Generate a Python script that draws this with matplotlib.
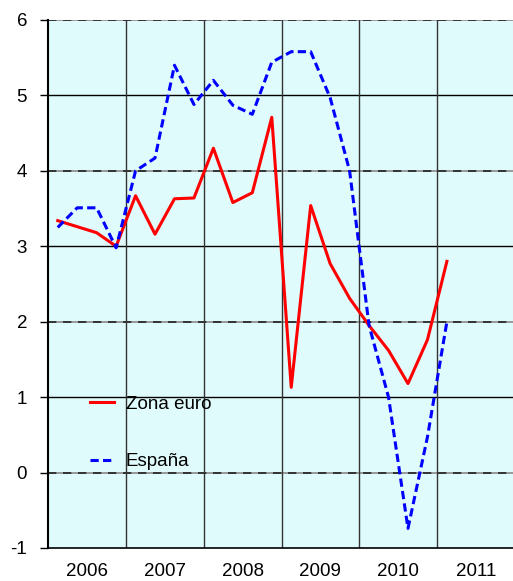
import numpy as np
import matplotlib
matplotlib.use("Agg")
import matplotlib.pyplot as plt

# Datos trimestrales 2006T1 - 2011T1
trimestres = ["2006T1", "2006T2", "2006T3", "2006T4",
              "2007T1", "2007T2", "2007T3", "2007T4",
              "2008T1", "2008T2", "2008T3", "2008T4",
              "2009T1", "2009T2", "2009T3", "2009T4",
              "2010T1", "2010T2", "2010T3", "2010T4",
              "2011T1"]
zona_euro = [3.34, 3.26, 3.18, 3.00,
             3.67, 3.16, 3.63, 3.64,
             4.30, 3.58, 3.71, 4.71,
             1.13, 3.54, 2.77, 2.31,
             1.95, 1.62, 1.18, 1.76,
             2.80]
espana = [3.25, 3.51, 3.51, 2.98,
          4.00, 4.17, 5.40, 4.88,
          5.20, 4.87, 4.75, 5.44,
          5.58, 5.58, 4.97, 4.00,
          1.95, 1.00, -0.74, 0.47,
          2.00]
anios = ["2006", "2007", "2008", "2009", "2010", "2011"]
y_ticks = [-1, 0, 1, 2, 3, 4, 5, 6]

plt.rcParams['font.family'] = ['Liberation Sans', 'DejaVu Sans']

W, H = 513, 581
fig = plt.figure(figsize=(W / 100, H / 100), dpi=100)
ax = fig.add_axes([48 / W, (H - 548) / H, 467 / W, 528 / H])
ax.set_facecolor('#e0fbfc')

x = np.arange(len(trimestres))
ax.set_xlim(-0.5, 4 * len(anios) - 0.5)
ax.set_ylim(-1, 6)

# Rejilla horizontal: lineas pares discontinuas, impares continuas
for v in y_ticks[1:]:
    if v % 2 == 0:
        ax.axhline(v, color='#8a8a8a', lw=1.2, zorder=1)
        ax.axhline(v, color='#222222', lw=1.2, ls=(0, (5, 4)), zorder=1)
    else:
        ax.axhline(v, color='black', lw=1.0, zorder=1)

# Separadores de anio
for i in range(1, len(anios)):
    ax.axvline(4 * i - 0.5, color='#333333', lw=1.0, zorder=1)

ax.plot(x, zona_euro, color='#ff0000', lw=2.2, label='Zona euro', zorder=3)
ax.plot(x, espana, color='#0000ff', lw=2.2, ls=(0, (2.7, 1.4)),
        label='España', zorder=3)

# Ejes
ax.set_yticks(y_ticks)
ax.set_yticklabels([str(v) for v in y_ticks])
ax.set_xticks([4 * i + 1.5 for i in range(len(anios))])
ax.set_xticklabels(anios)
ax.tick_params(axis='y', length=6, width=1, pad=9, labelsize=13.5, colors='black')
ax.tick_params(axis='x', length=0, pad=11, labelsize=13.5)
for s in ['top', 'right']:
    ax.spines[s].set_visible(False)
ax.spines['left'].set_linewidth(1.5)
ax.spines['bottom'].set_linewidth(1.2)

ax.legend(loc='center left', bbox_to_anchor=(90 / W, 1 - 433 / H),
          bbox_transform=fig.transFigure, frameon=False, fontsize=13.5,
          handlelength=1.3, handletextpad=0.6, labelspacing=2.15,
          borderpad=0, borderaxespad=0)

fig.savefig('out.png', dpi=100)
